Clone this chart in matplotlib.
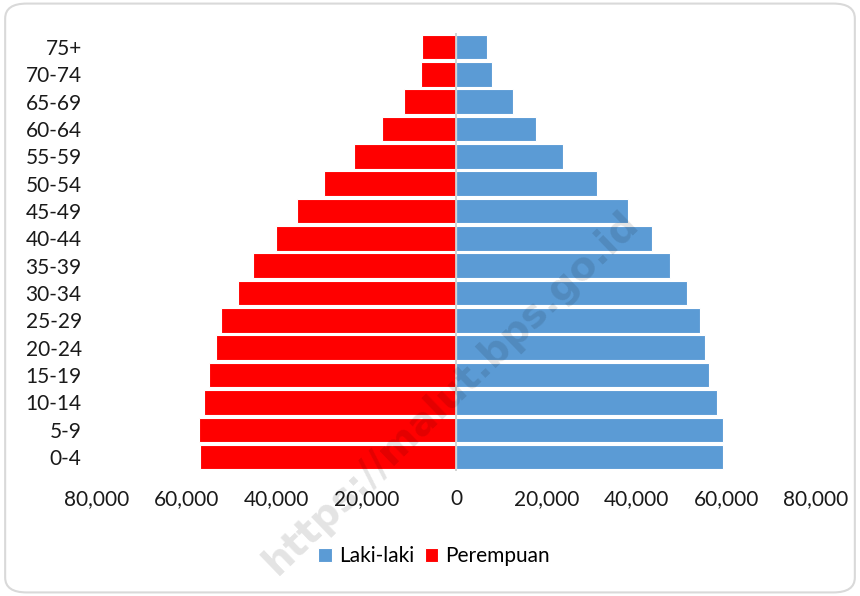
import matplotlib
matplotlib.use("Agg")
from matplotlib import pyplot as plt
from matplotlib.patches import FancyBboxPatch
from matplotlib.ticker import FuncFormatter

plt.rcParams['font.family'] = ['Lato', 'DejaVu Sans']

# age groups, bottom to top
ages = ['0-4', '5-9', '10-14', '15-19', '20-24', '25-29', '30-34', '35-39',
        '40-44', '45-49', '50-54', '55-59', '60-64', '65-69', '70-74', '75+']
# Laki-laki (male)
male = [59200, 59200, 57900, 56100, 55400, 54300, 51400, 47600,
        43400, 38100, 31200, 23800, 17800, 12500, 7800, 6700]
# Perempuan (female)
female = [57000, 57200, 56300, 55000, 53600, 52300, 48700, 45200,
          40100, 35400, 29400, 22900, 16500, 11600, 7800, 7600]
ticks = [-80000, -60000, -40000, -20000, 0, 20000, 40000, 60000, 80000]

fig = plt.figure(figsize=(8.6, 5.96), dpi=100)

# rounded grey frame round the chart
frame = FancyBboxPatch((0.006, 0.006), 0.988, 0.988,
                       boxstyle="round,pad=0,rounding_size=0.025",
                       transform=fig.transFigure, facecolor='white',
                       edgecolor='#d9d9d9', linewidth=1.5, zorder=-5)
fig.patches.append(frame)

ax = fig.add_axes([0.1128, 0.210, 0.836, 0.734])
ax.set_facecolor('none')
ax.set_zorder(1)

y = range(len(ages))
ax.barh(y, male, height=0.9, color='#5B9BD5', edgecolor='white',
        linewidth=0.8, label='Laki-laki')
ax.barh(y, [-v for v in female], height=0.9, color='#FF0000',
        edgecolor='white', linewidth=0.8, label='Perempuan')
ax.axvline(0, color='#d0d0d0', linewidth=1.3, zorder=3)

ax.set_xlim(-80000, 80000)
ax.set_ylim(-0.5, len(ages) - 0.5)
ax.set_yticks(list(y))
ax.set_yticklabels(ages)
ax.set_xticks(ticks)
ax.xaxis.set_major_formatter(FuncFormatter(lambda v, p: f"{abs(int(v)):,}"))
ax.tick_params(axis='y', length=0, pad=11, labelsize=15, colors='#1a1a1a')
ax.tick_params(axis='x', length=0, pad=13, labelsize=15, colors='#1a1a1a')
for s in ax.spines.values():
    s.set_visible(False)

fig.legend(loc='center', bbox_to_anchor=(0.505, 0.067), ncol=2,
           frameon=False, fontsize=15, handlelength=0.65, handleheight=0.65,
           handletextpad=0.35, columnspacing=0.5)

# watermark
fig.text(0.525, 0.34, 'https://malut.bps.go.id', rotation=44,
         fontsize=28, fontweight='bold', color='black', alpha=0.11,
         ha='center', va='center', family='DejaVu Sans', zorder=10)

fig.savefig('out.png', dpi=100)
